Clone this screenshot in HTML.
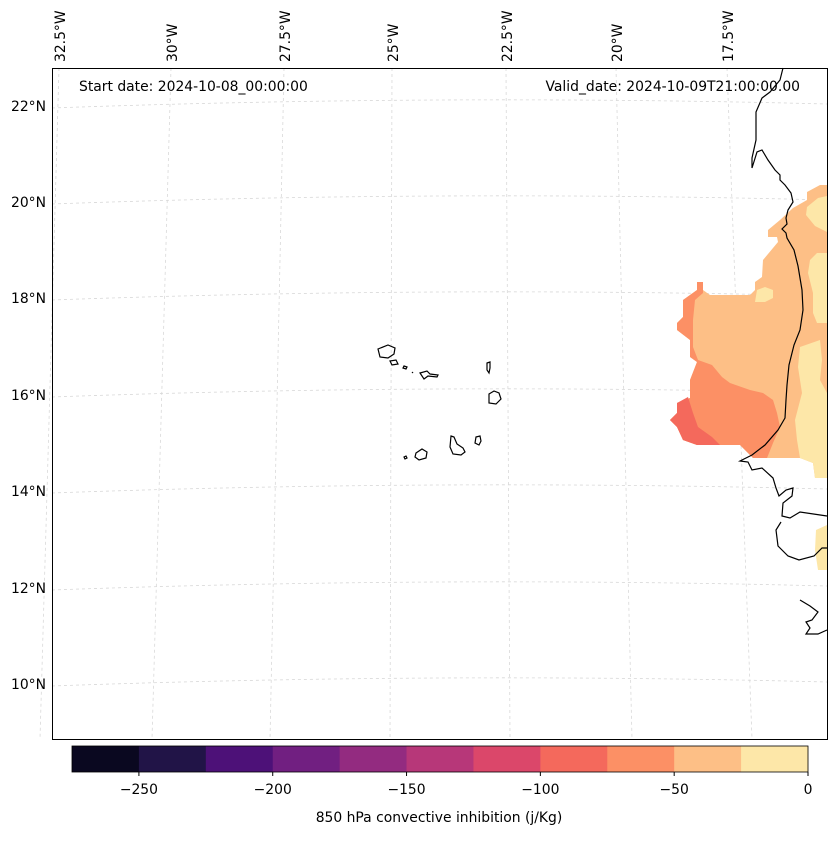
<!DOCTYPE html>
<html><head><meta charset="utf-8"><style>
body{margin:0;background:#fff;font-family:"Liberation Sans","DejaVu Sans",sans-serif;}
svg text{font-family:"DejaVu Sans","Liberation Sans",sans-serif;font-size:13.9px;fill:#000;}
</style></head><body>
<svg id="fig" width="837" height="836" viewBox="0 0 837 836" xmlns="http://www.w3.org/2000/svg">
<rect width="837" height="836" fill="#fff"/>
<g id="grid" stroke="#d8d8d8" stroke-width="0.8" stroke-dasharray="3,3" fill="none"></g>
<g>
<polygon fill="#fdbf86" points="820,185 827,185 827,478 815,478 813,463 800,458 753,458 740,445 697,445 683,440 677,427 670,420 677,413 677,403 690,398 690,380 697,362 690,357 690,340 677,330 677,323 683,317 683,300 697,290 697,282 703,282 703,290 710,295 750,295 755,290 755,282 762,277 763,260 778,242 777,237 768,237 768,230 780,220 793,208 807,200 807,192"/>
<polygon fill="#fc9065" points="697,282 703,282 703,293 695,300 693,320 693,347 698,360 712,365 722,377 730,383 750,390 763,393 773,400 777,413 780,427 773,443 767,458 753,458 740,445 697,445 683,440 677,427 670,420 677,413 677,403 690,398 690,380 697,362 690,357 690,340 677,330 677,323 683,317 683,300 697,290"/>
<polygon fill="#f4695c" points="688,397 693,413 698,427 712,437 720,445 697,445 683,440 677,427 670,420 677,413 677,403"/>
<g fill="#fde7a8">
<polygon points="807,207 818,198 827,196 827,232 815,226 806,215"/>
<polygon points="817,253 810,260 808,273 813,293 813,313 817,323 827,323 827,253"/>
<polygon points="757,290 765,287 773,290 773,298 765,302 755,302"/>
<polygon points="800,347 820,340 822,360 820,380 827,393 827,478 815,478 813,463 800,458 797,440 795,420 802,393 798,367"/>
<polygon points="816,530 827,525 827,570 818,570 815,550"/>
</g>
</g>
<g fill="none" stroke="#000" stroke-width="1.2">
<path d="M783,68 L780,80 770,92 762,98 756,112 756,140 752,158 752,168 757,152 762,150 768,160 775,170 780,175 780,180 785,185 791,193 793,202 788,210 786,218 787,224 782,229 786,233 787,238 794,250 798,266 802,290 803,310 800,330 794,345 789,365 787,385 786,400 785,418 778,430 765,445 752,455 740,461 748,462 752,470 762,468 773,478 776,488 779,496 786,490 793,488 792,496 783,503 782,516 790,518 800,512 827,516"/>
<path d="M781,522 L776,530 778,546 788,556 799,560 814,556 822,548 827,548"/>
<path d="M800,600 L810,606 818,612 812,620 806,622 810,628 806,634 818,634 827,630"/>
<path d="M378,349 L388,345 395,348 394,354 388,358 380,357 Z"/>
<path d="M390,361 L396,360 398,364 392,365 Z"/>
<path d="M404,366 l3,1 l-1,2 l-3,-1 Z"/>
<path d="M412,372 l1,1"/>
<path d="M420,373 L427,371 430,374 438,375 437,377 428,376 424,379 Z"/>
<path d="M487,363 L490,362 490,368 489,373 487,370 Z"/>
<path d="M489,394 L494,391 499,393 501,399 496,404 489,403 Z"/>
<path d="M476,437 L480,436 481,441 479,445 475,443 Z"/>
<path d="M451,436 L454,437 457,444 463,448 465,452 461,455 453,454 450,447 Z"/>
<path d="M416,453 L422,449 427,452 426,458 419,460 415,457 Z"/>
<path d="M404,457 l2,-1 l1,2 l-2,1 Z"/>
</g>
<rect x="52.5" y="68.5" width="775" height="671" fill="none" stroke="#000" stroke-width="1"/>
<g id="latlabels"></g>
<g id="lonlabels"></g>
<text x="79" y="91">Start date: 2024-10-08_00:00:00</text>
<text x="800" y="91" text-anchor="end">Valid_date: 2024-10-09T21:00:00.00</text>
<g id="cbar"></g>
<text x="439" y="822" text-anchor="middle">850 hPa convective inhibition (j/Kg)</text>
</svg>
<script>
const NS="http://www.w3.org/2000/svg";
const cbLevels=[-275,-250,-225,-200,-175,-150,-125,-100,-75,-50,-25,0];
const cbColors=["#0a0820","#211447","#4d1178","#711f81","#932b80","#b73779","#db476a","#f4695c","#fc9065","#fdbf86","#fde7a8"];
const cbTicks=[-250,-200,-150,-100,-50,0];
const latLabels=["22°N","20°N","18°N","16°N","14°N","12°N","10°N"];
const latY=[106,202,298,395,491,588,684];
const lonLabels=["32.5°W","30°W","27.5°W","25°W","22.5°W","20°W","17.5°W"];
const lonTopX=[60,172,285,393,507,617,728];
const lonBotX=[40,152,270,390,510,632,752];
function cx(v){return 72+(v+275)/275*736;}
const cb=document.getElementById('cbar');
for(let i=0;i<cbColors.length;i++){
 const r=document.createElementNS(NS,'rect');
 r.setAttribute('x',cx(cbLevels[i]));r.setAttribute('y',746);
 r.setAttribute('width',cx(cbLevels[i+1])-cx(cbLevels[i])+0.5);r.setAttribute('height',26);
 r.setAttribute('fill',cbColors[i]);
 
 
 cb.appendChild(r);
}
const fr=document.createElementNS(NS,'rect');
fr.setAttribute('x',72);fr.setAttribute('y',746);fr.setAttribute('width',736);fr.setAttribute('height',26);
fr.setAttribute('fill','none');fr.setAttribute('stroke','#000');fr.setAttribute('stroke-width','0.8');


cb.appendChild(fr);
cbTicks.forEach(t=>{
 const l=document.createElementNS(NS,'line');
 l.setAttribute('x1',cx(t));l.setAttribute('x2',cx(t));l.setAttribute('y1',772);l.setAttribute('y2',776);l.setAttribute('stroke','#000');
 
 
 cb.appendChild(l);
 const tx=document.createElementNS(NS,'text');
 tx.setAttribute('x',cx(t));tx.setAttribute('y',794);tx.setAttribute('text-anchor','middle');
 tx.textContent=(t<0?'\u2212'+(-t):String(t));
 
 
 cb.appendChild(tx);
});
const g=document.getElementById('grid');
latY.forEach(y=>{
 const p=document.createElementNS(NS,'path');
 p.setAttribute('d',`M52,${y+2} Q440,${y-12} 827,${y-2}`);
 
 
 g.appendChild(p);
});
lonTopX.forEach((x,i)=>{
 const p=document.createElementNS(NS,'path');
 p.setAttribute('d',`M${x-1},68 L${lonBotX[i]},739`);
 
 
 g.appendChild(p);
});
const ll=document.getElementById('latlabels');
latLabels.forEach((s,i)=>{
 const t=document.createElementNS(NS,'text');
 t.setAttribute('x',46);t.setAttribute('y',latY[i]+5);t.setAttribute('text-anchor','end');t.textContent=s;
 
 
 ll.appendChild(t);
});
const lo=document.getElementById('lonlabels');
lonLabels.forEach((s,i)=>{
 const t=document.createElementNS(NS,'text');
 t.setAttribute('transform',`translate(${lonTopX[i]+5},62) rotate(-90)`);t.textContent=s;
 
 
 lo.appendChild(t);
});
</script>
</body></html>
